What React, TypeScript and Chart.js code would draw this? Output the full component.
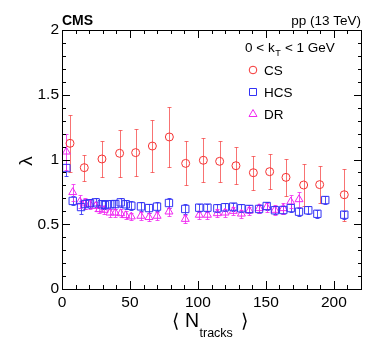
import React, { useEffect, useRef } from "react";
import { Chart, registerables } from "chart.js";
Chart.register(...registerables);

const CS_N = [5.9, 16.4, 29.4, 42.4, 54.2, 66.5, 79, 91, 104, 116, 128, 140.8, 152.8, 164.8, 177.8, 189.6, 207.7];
const CS_L = [1.125, 0.937, 1.004, 1.048, 1.053, 1.104, 1.174, 0.97, 0.994, 0.986, 0.952, 0.898, 0.906, 0.862, 0.803, 0.806, 0.728];
const CS_E = [0.22, 0.1, 0.14, 0.18, 0.18, 0.2, 0.23, 0.17, 0.17, 0.16, 0.145, 0.13, 0.135, 0.14, 0.16, 0.145, 0.2];

const HCS_N = [3.2, 7.9, 14, 16.9, 20.6, 24.8, 29.2, 31.6, 35.5, 39.2, 43.2, 46.9, 51, 58.1, 64, 69.9, 78.7, 90.7, 101, 107, 114.3, 119.9, 126, 131.9, 137.8, 145, 150.6, 156.7, 162.8, 168.3, 174.4, 181.2, 187.9, 193.7, 207.7];
const HCS_L = [0.934, 0.68, 0.633, 0.656, 0.662, 0.669, 0.654, 0.649, 0.654, 0.656, 0.669, 0.654, 0.643, 0.638, 0.625, 0.636, 0.664, 0.618, 0.628, 0.628, 0.623, 0.631, 0.636, 0.623, 0.618, 0.618, 0.641, 0.608, 0.61, 0.625, 0.597, 0.608, 0.581, 0.687, 0.574];
const HCS_E = [0.06, 0.035, 0.05, 0.04, 0.035, 0.035, 0.035, 0.035, 0.035, 0.035, 0.035, 0.035, 0.035, 0.035, 0.035, 0.035, 0.035, 0.035, 0.03, 0.03, 0.03, 0.03, 0.03, 0.03, 0.03, 0.03, 0.03, 0.03, 0.03, 0.03, 0.03, 0.03, 0.03, 0.03, 0.03];

const DR_N = [3.2, 7.9, 13.2, 16.9, 20.6, 24.8, 27.5, 31, 35.3, 39.2, 43.2, 46.9, 51, 58, 64, 70, 78.7, 90.7, 101, 107, 114.3, 120, 126, 132, 137.8, 145, 150.6, 156.7, 162.8, 168.3, 174.4];
const DR_L = [1.06, 0.747, 0.674, 0.66, 0.654, 0.64, 0.615, 0.61, 0.589, 0.589, 0.584, 0.569, 0.559, 0.564, 0.554, 0.564, 0.597, 0.54, 0.572, 0.572, 0.584, 0.589, 0.602, 0.581, 0.604, 0.623, 0.631, 0.61, 0.623, 0.674, 0.692];
const DR_E = [0.14, 0.065, 0.05, 0.04, 0.035, 0.035, 0.03, 0.03, 0.03, 0.03, 0.03, 0.03, 0.03, 0.03, 0.03, 0.03, 0.03, 0.03, 0.03, 0.03, 0.03, 0.03, 0.03, 0.03, 0.03, 0.035, 0.035, 0.035, 0.04, 0.05, 0.06];

const X_MAJOR = [0, 50, 100, 150, 200];
const X_MINOR_STEP = 10;
const Y_MAJOR = [0, 0.5, 1, 1.5, 2];
const Y_LABELS = ["0", "0.5", "1", "1.5", "2"];
const Y_MINOR_STEP = 0.1;

const CS_COLOR = "rgb(245,50,50)";
const CS_ERR = "rgba(245,40,40,0.65)";
const HCS_COLOR = "rgb(50,50,245)";
const HCS_ERR = "rgba(50,50,245,0.85)";
const DR_COLOR = "rgb(240,40,240)";
const DR_ERR = "rgba(240,40,240,0.8)";

const FONT = "'Liberation Sans', Arial, Helvetica, sans-serif";

function pts(n: number[], l: number[]) {
  return n.map((x, i) => ({ x, y: l[i] }));
}

export default function App() {
  const ref = useRef<HTMLCanvasElement>(null);
  useEffect(() => {
    document.body.style.margin = "0";
    const canvas = ref.current!;

    const plugin = {
      id: "rootstyle",
      beforeDatasetsDraw(chart: any) {
        const c = chart.ctx;
        const xs = chart.scales.x;
        const ys = chart.scales.y;
        chart.data.datasets.forEach((ds: any) => {
          c.save();
          c.strokeStyle = ds.errColor;
          c.lineWidth = 1;
          ds.data.forEach((p: any, i: number) => {
            const e = ds.errors[i];
            const px = Math.round(xs.getPixelForValue(p.x)) + 0.5;
            const y1 = Math.round(ys.getPixelForValue(p.y + e)) + 0.5;
            const y2 = Math.round(ys.getPixelForValue(p.y - e)) + 0.5;
            c.beginPath();
            c.moveTo(px, y1);
            c.lineTo(px, y2);
            c.moveTo(px - 2, y1);
            c.lineTo(px + 2, y1);
            c.moveTo(px - 2, y2);
            c.lineTo(px + 2, y2);
            c.stroke();
          });
          c.restore();
        });
      },
      afterDraw(chart: any) {
        const c = chart.ctx;
        const xs = chart.scales.x;
        const ys = chart.scales.y;
        const ca = chart.chartArea;
        const L = Math.round(ca.left);
        const R = Math.round(ca.right);
        const T = Math.round(ca.top);
        const B = Math.round(ca.bottom);
        c.save();
        c.fillStyle = "#000";
        // frame
        c.fillRect(L, T, R - L + 1, 1);
        c.fillRect(L, B, R - L + 1, 1);
        c.fillRect(L, T, 1, B - T + 1);
        c.fillRect(R, T, 1, B - T + 1);
        // x ticks
        const nx = Math.round(220 / X_MINOR_STEP);
        for (let k = 0; k <= nx; k++) {
          const v = k * X_MINOR_STEP;
          const px = Math.round(xs.getPixelForValue(v));
          const len = X_MAJOR.indexOf(v) >= 0 ? 8 : 4;
          c.fillRect(px, B - len, 1, len);
          c.fillRect(px, T, 1, len);
        }
        // y ticks
        const ny = Math.round(2 / Y_MINOR_STEP);
        for (let k = 0; k <= ny; k++) {
          const py = Math.round(ys.getPixelForValue(k * Y_MINOR_STEP));
          const len = k % 5 === 0 ? 8 : 4;
          c.fillRect(L, py, len, 1);
          c.fillRect(R - len + 1, py, len, 1);
        }

        // header texts
        c.textBaseline = "alphabetic";
        c.font = `bold 14px ${FONT}`;
        c.textAlign = "left";
        c.fillText("CMS", L, 25);
        c.font = `13.5px ${FONT}`;
        c.textAlign = "right";
        c.fillText("pp (13 TeV)", R, 25);

        // legend header
        c.textAlign = "left";
        c.font = `13.5px ${FONT}`;
        let x = 245;
        const by = 52;
        c.fillText("0 < k", x, by);
        x += c.measureText("0 < k").width;
        c.font = `9px ${FONT}`;
        c.fillText("T", x + 0.5, by + 4);
        x += c.measureText("T").width + 1;
        c.font = `13.5px ${FONT}`;
        c.fillText(" < 1 GeV", x, by);

        // legend entries
        const entries = [
          { label: "CS", color: CS_COLOR, shape: "circle", y: 70 },
          { label: "HCS", color: HCS_COLOR, shape: "rect", y: 92 },
          { label: "DR", color: DR_COLOR, shape: "triangle", y: 114 },
        ];
        entries.forEach((e) => {
          c.strokeStyle = e.color;
          c.lineWidth = 1;
          c.beginPath();
          const mx = 253;
          if (e.shape === "circle") c.arc(mx, e.y, 3.8, 0, Math.PI * 2);
          else if (e.shape === "rect") c.rect(mx - 3.5, e.y - 3.5, 7, 7);
          else {
            c.moveTo(mx, e.y - 4.5);
            c.lineTo(mx + 4, e.y + 2.5);
            c.lineTo(mx - 4, e.y + 2.5);
            c.closePath();
          }
          c.stroke();
          c.fillStyle = "#000";
          c.font = `13.5px ${FONT}`;
          c.textBaseline = "middle";
          c.fillText(e.label, 264, e.y + 1);
          c.textBaseline = "alphabetic";
        });

        // y title (rotated)
        c.save();
        c.translate(27, 161);
        c.rotate(-Math.PI / 2);
        c.font = `19px ${FONT}`;
        c.textAlign = "center";
        c.textBaseline = "middle";
        c.fillText("λ", 0, 0);
        c.restore();

        // x title
        c.textBaseline = "alphabetic";
        c.font = `19px 'DejaVu Sans', ${FONT}`;
        c.textAlign = "left";
        c.fillText("⟨", 172, 327);
        c.font = `19.5px ${FONT}`;
        c.fillText("N", 185, 327);
        c.font = `12.5px ${FONT}`;
        c.fillText("tracks", 199.5, 336.5);
        c.font = `19px 'DejaVu Sans', ${FONT}`;
        c.fillText("⟩", 241, 327);
        c.restore();
      },
    };

    const chart = new Chart(canvas, {
      type: "scatter",
      data: {
        datasets: [
          {
            label: "CS",
            data: pts(CS_N, CS_L),
            errors: CS_E,
            errColor: CS_ERR,
            pointStyle: "circle",
            radius: 4,
            borderColor: CS_COLOR,
            backgroundColor: "rgba(0,0,0,0)",
            borderWidth: 1,
          } as any,
          {
            label: "HCS",
            data: pts(HCS_N, HCS_L),
            errors: HCS_E,
            errColor: HCS_ERR,
            pointStyle: "rect",
            radius: 5.2,
            borderColor: HCS_COLOR,
            backgroundColor: "rgba(0,0,0,0)",
            borderWidth: 1,
          } as any,
          {
            label: "DR",
            data: pts(DR_N, DR_L),
            errors: DR_E,
            errColor: DR_ERR,
            pointStyle: "triangle",
            radius: 4.6,
            borderColor: DR_COLOR,
            backgroundColor: "rgba(0,0,0,0)",
            borderWidth: 1,
          } as any,
        ],
      },
      options: {
        animation: false,
        responsive: false,
        maintainAspectRatio: false,
        layout: { padding: { top: 30, right: 13, left: 0, bottom: 0 } },
        plugins: { legend: { display: false }, tooltip: { enabled: false } },
        scales: {
          x: {
            type: "linear",
            min: 0,
            max: 220,
            afterFit: (s: any) => { s.height = 68; },
            afterBuildTicks: (s: any) => { s.ticks = X_MAJOR.map((v) => ({ value: v })); },
            grid: { display: false, drawTicks: false },
            border: { display: false },
            ticks: { padding: 4, color: "#000", font: { family: FONT, size: 15.5 }, maxRotation: 0, autoSkip: false },
          },
          y: {
            type: "linear",
            min: 0,
            max: 2,
            afterFit: (s: any) => { s.width = 62; },
            afterBuildTicks: (s: any) => { s.ticks = Y_MAJOR.map((v) => ({ value: v })); },
            grid: { display: false, drawTicks: false },
            border: { display: false },
            ticks: {
              padding: 3,
              color: "#000",
              font: { family: FONT, size: 15.5 },
              autoSkip: false,
              callback: (v: number) => {
                const i = Y_MAJOR.indexOf(v);
                return i >= 0 ? Y_LABELS[i] : "";
              },
            },
          },
        },
      } as any,
      plugins: [plugin],
    });
    return () => chart.destroy();
  }, []);

  return <canvas ref={ref} width={374} height={357} style={{ display: "block", width: 374, height: 357 }} />;
}
